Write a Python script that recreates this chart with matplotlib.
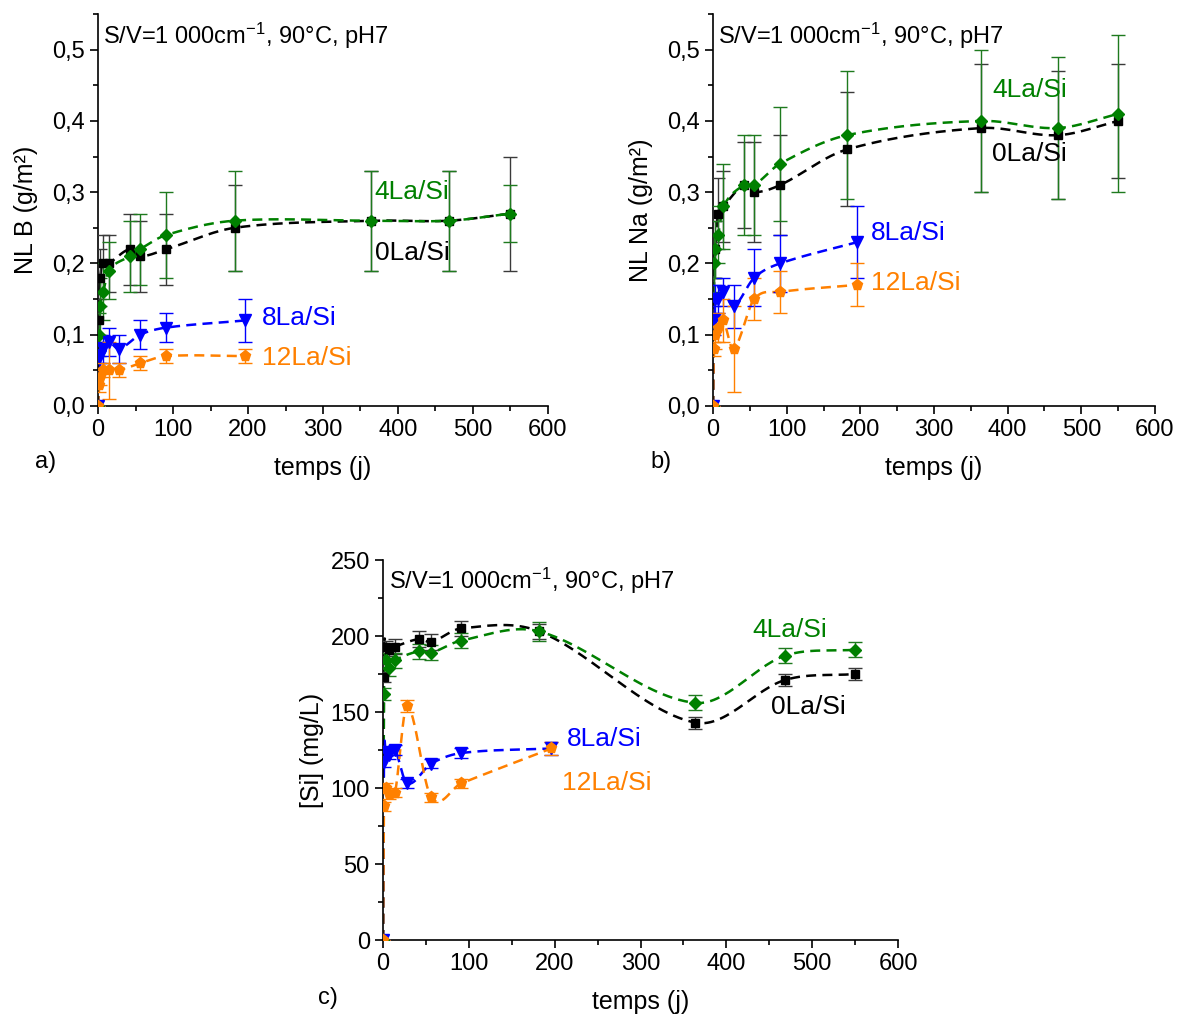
import numpy as np
import matplotlib
matplotlib.use("Agg")
import matplotlib.pyplot as plt
from matplotlib.ticker import MultipleLocator, FuncFormatter

plt.rcParams['font.family'] = ['Liberation Sans', 'DejaVu Sans']
plt.rcParams['mathtext.fontset'] = 'custom'
plt.rcParams['mathtext.rm'] = 'Liberation Sans'
plt.rcParams['mathtext.it'] = 'Liberation Sans'

# === Temps (jours)
t_ref = [0, 1, 3, 7, 14, 42, 56, 91, 182, 364, 468, 550]   # 0La/Si, 4La/Si
t_la = [0, 1, 3, 7, 14, 28, 56, 91, 196]                    # 8La/Si, 12La/Si

# === a) NL B (g/m²)
a_0la = [0, 0.12, 0.18, 0.20, 0.20, 0.22, 0.21, 0.22, 0.25, 0.26, 0.26, 0.27]
a_0la_err = [0, 0.03, 0.04, 0.04, 0.04, 0.05, 0.05, 0.05, 0.06, 0.07, 0.07, 0.08]
a_4la = [0, 0.10, 0.14, 0.16, 0.19, 0.21, 0.22, 0.24, 0.26, 0.26, 0.26, 0.27]
a_4la_err = [0, 0.03, 0.04, 0.04, 0.04, 0.05, 0.05, 0.06, 0.07, 0.07, 0.07, 0.04]
a_8la = [0, 0.07, 0.07, 0.08, 0.09, 0.08, 0.10, 0.11, 0.12]
a_8la_err = [0, 0.01, 0.02, 0.02, 0.02, 0.02, 0.02, 0.02, 0.03]
a_12la = [0, 0.03, 0.04, 0.05, 0.05, 0.05, 0.06, 0.07, 0.07]
a_12la_err = [0, 0.01, 0.01, 0.01, 0.04, 0.01, 0.01, 0.01, 0.01]

# === b) NL Na (g/m²)
b_0la = [0, 0.15, 0.22, 0.27, 0.28, 0.31, 0.30, 0.31, 0.36, 0.39, 0.38, 0.40]
b_0la_err = [0, 0.03, 0.04, 0.05, 0.05, 0.06, 0.07, 0.07, 0.08, 0.09, 0.09, 0.08]
b_4la = [0, 0.20, 0.22, 0.24, 0.28, 0.31, 0.31, 0.34, 0.38, 0.40, 0.39, 0.41]
b_4la_err = [0, 0.04, 0.04, 0.04, 0.06, 0.07, 0.07, 0.08, 0.09, 0.10, 0.10, 0.11]
b_8la = [0, 0.12, 0.15, 0.15, 0.16, 0.14, 0.18, 0.20, 0.23]
b_8la_err = [0, 0.02, 0.02, 0.02, 0.02, 0.03, 0.04, 0.04, 0.05]
b_12la = [0, 0.08, 0.10, 0.11, 0.12, 0.08, 0.15, 0.16, 0.17]
b_12la_err = [0, 0.01, 0.02, 0.02, 0.03, 0.06, 0.03, 0.03, 0.03]

# === c) [Si] (mg/L)
c_0la = [0, 173, 193, 191, 193, 198, 196, 205, 203, 143, 171, 175]
c_0la_err = [0, 3, 4, 4, 5, 5, 5, 5, 5, 4, 4, 4]
c_4la = [0, 162, 184, 179, 184, 190, 189, 197, 203, 156, 187, 191]
c_4la_err = [0, 4, 5, 5, 5, 5, 5, 5, 6, 5, 5, 5]
c_8la = [0, 117, 124, 122, 125, 103, 116, 123, 126]
c_8la_err = [0, 3, 3, 3, 3, 3, 3, 3, 4]
c_12la = [0, 88, 100, 96, 97, 154, 94, 103, 126]
c_12la_err = [0, 3, 3, 3, 3, 4, 3, 3, 4]

TITLE = "S/V=1 000cm$^{-1}$, 90°C, pH7"

STYLES = {
    "0La/Si": dict(color="#000000", ecolor="#3a3a3a", marker="s", ms=6),
    "4La/Si": dict(color="#008000", ecolor="#1e7a1e", marker="D", ms=6),
    "8La/Si": dict(color="#0000ff", ecolor="#0000ff", marker="v", ms=8),
    "12La/Si": dict(color="#ff8000", ecolor="#ff8000", marker="p", ms=8),
}

TICK_FS = 17
LABEL_FS = 18
NOTE_FS = 19


def smooth_curve(x, y, n=30):
    # Hermite spline through the points (tangents from neighbours)
    x = np.asarray(x, float)
    y = np.asarray(y, float)
    m = np.zeros_like(y)
    m[1:-1] = (y[2:] - y[:-2]) / (x[2:] - x[:-2])
    m[0] = (y[1] - y[0]) / (x[1] - x[0])
    m[-1] = (y[-1] - y[-2]) / (x[-1] - x[-2])
    xs, ys = [], []
    for i in range(len(x) - 1):
        h = x[i + 1] - x[i]
        s = np.linspace(0, 1, n)
        h00 = 2 * s**3 - 3 * s**2 + 1
        h10 = s**3 - 2 * s**2 + s
        h01 = -2 * s**3 + 3 * s**2
        h11 = s**3 - s**2
        xs.append(x[i] + s * h)
        ys.append(h00 * y[i] + h10 * h * m[i] + h01 * y[i + 1] + h11 * h * m[i + 1])
    return np.concatenate(xs), np.concatenate(ys)


def draw_series(ax, t, y, err, name):
    st = STYLES[name]
    xs, ys = smooth_curve(t, y)
    ax.plot(xs, ys, ls=(0, (4, 2.5)), lw=1.8, color=st["color"], zorder=2)
    ax.errorbar(t, y, yerr=err, fmt=st["marker"], ms=st["ms"], color=st["color"],
                ecolor=st["ecolor"], elinewidth=1, capsize=5, capthick=1, zorder=3)


def style_axes(ax, ymax, ymajor, yminor, ylabel, ypad, comma=True):
    ax.set_xlim(0, 600)
    ax.set_ylim(0, ymax)
    for s in ["top", "right"]:
        ax.spines[s].set_visible(False)
    for s in ["left", "bottom"]:
        ax.spines[s].set_linewidth(1.2)
    ax.xaxis.set_major_locator(MultipleLocator(100))
    ax.xaxis.set_minor_locator(MultipleLocator(50))
    ax.yaxis.set_major_locator(MultipleLocator(ymajor))
    ax.yaxis.set_minor_locator(MultipleLocator(yminor))
    if comma:
        ax.yaxis.set_major_formatter(FuncFormatter(lambda v, p: f"{v:.1f}".replace(".", ",")))
    ax.tick_params(which="major", direction="out", length=6, width=1.2, labelsize=TICK_FS)
    ax.tick_params(which="minor", direction="out", length=3.5, width=1.2)
    ax.set_xlabel("temps (j)", fontsize=LABEL_FS, labelpad=11)
    ax.set_ylabel(ylabel, fontsize=LABEL_FS, labelpad=ypad)
    ax.text(0.012, 0.945, TITLE, transform=ax.transAxes, fontsize=17, va="center")


fig = plt.figure(figsize=(11.84, 10.18), dpi=100)

# === a)
ax_a = fig.add_axes([0.0828, 0.6012, 0.380, 0.385])
draw_series(ax_a, t_ref, a_0la, a_0la_err, "0La/Si")
draw_series(ax_a, t_ref, a_4la, a_4la_err, "4La/Si")
draw_series(ax_a, t_la, a_8la, a_8la_err, "8La/Si")
draw_series(ax_a, t_la, a_12la, a_12la_err, "12La/Si")
style_axes(ax_a, 0.55, 0.1, 0.05, "NL B (g/m²)", 10)
ax_a.text(369, 0.30, "4La/Si", color="#008000", fontsize=NOTE_FS, va="center")
ax_a.text(369, 0.215, "0La/Si", color="#000000", fontsize=NOTE_FS, va="center")
ax_a.text(219, 0.124, "8La/Si", color="#0000ff", fontsize=NOTE_FS, va="center")
ax_a.text(219, 0.067, "12La/Si", color="#ff8000", fontsize=NOTE_FS, va="center")

# === b)
ax_b = fig.add_axes([0.6022, 0.6012, 0.3733, 0.385])
draw_series(ax_b, t_ref, b_0la, b_0la_err, "0La/Si")
draw_series(ax_b, t_ref, b_4la, b_4la_err, "4La/Si")
draw_series(ax_b, t_la, b_8la, b_8la_err, "8La/Si")
draw_series(ax_b, t_la, b_12la, b_12la_err, "12La/Si")
style_axes(ax_b, 0.55, 0.1, 0.05, "NL Na (g/m²)", 10)
ax_b.text(379, 0.444, "4La/Si", color="#008000", fontsize=NOTE_FS, va="center")
ax_b.text(379, 0.353, "0La/Si", color="#000000", fontsize=NOTE_FS, va="center")
ax_b.text(214, 0.243, "8La/Si", color="#0000ff", fontsize=NOTE_FS, va="center")
ax_b.text(214, 0.173, "12La/Si", color="#ff8000", fontsize=NOTE_FS, va="center")

# === c)
ax_c = fig.add_axes([0.3235, 0.0766, 0.435, 0.3733])
draw_series(ax_c, t_ref, c_0la, c_0la_err, "0La/Si")
draw_series(ax_c, t_ref, c_4la, c_4la_err, "4La/Si")
draw_series(ax_c, t_la, c_8la, c_8la_err, "8La/Si")
draw_series(ax_c, t_la, c_12la, c_12la_err, "12La/Si")
style_axes(ax_c, 250, 50, 25, "[Si] (mg/L)", 5, comma=False)
ax_c.text(430, 204, "4La/Si", color="#008000", fontsize=NOTE_FS, va="center")
ax_c.text(452, 153, "0La/Si", color="#000000", fontsize=NOTE_FS, va="center")
ax_c.text(214, 132, "8La/Si", color="#0000ff", fontsize=NOTE_FS, va="center")
ax_c.text(208, 103, "12La/Si", color="#ff8000", fontsize=NOTE_FS, va="center")

# === Panel-Buchstaben
fig.text(0.0296, 0.546, "a)", fontsize=TICK_FS, va="center")
fig.text(0.549, 0.546, "b)", fontsize=TICK_FS, va="center")
fig.text(0.2686, 0.0196, "c)", fontsize=TICK_FS, va="center")

plt.savefig("out.png", dpi=100)
plt.close()
